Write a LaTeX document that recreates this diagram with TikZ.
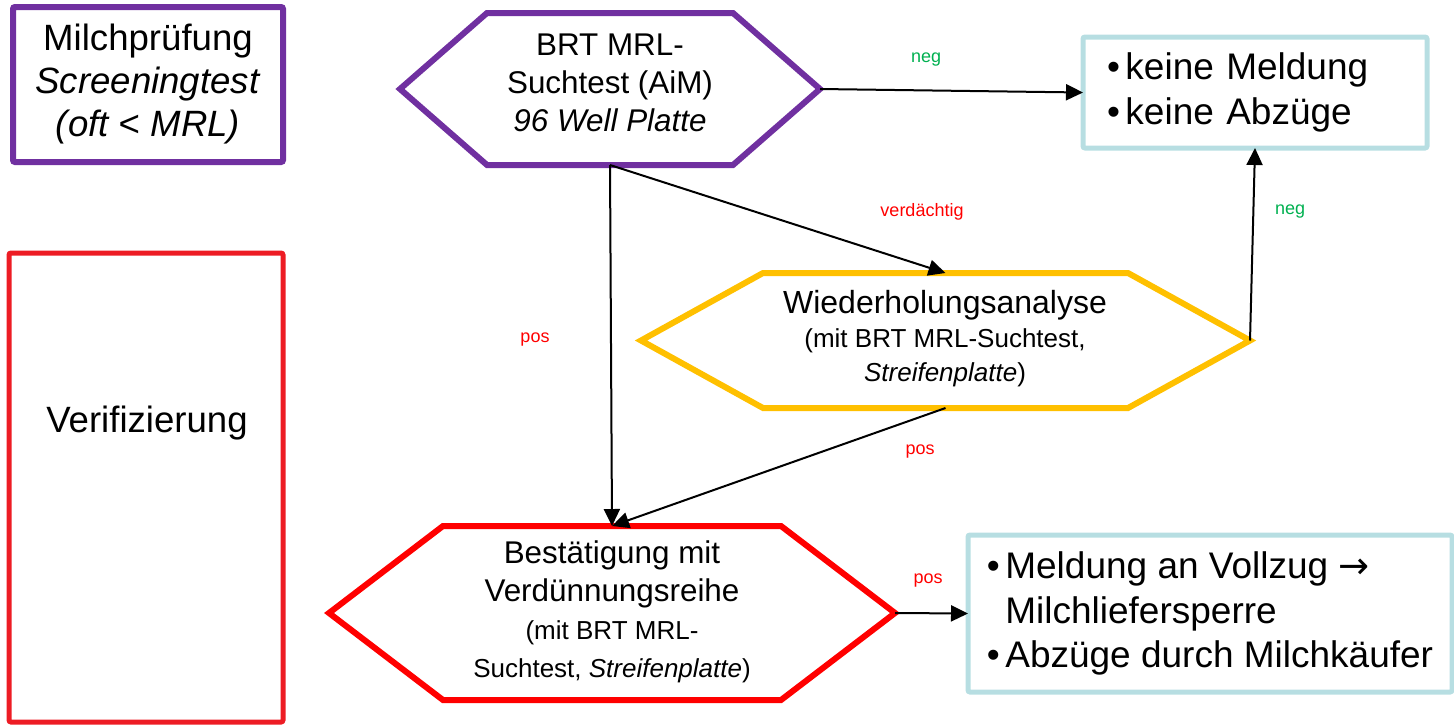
\documentclass[tikz,border=0pt]{standalone}
\usepackage{fontspec}
\setmainfont{Liberation Sans}
\newfontfamily\symfont{DejaVu Sans}
\usetikzlibrary{arrows.meta, calc}

\definecolor{screenpurple}{RGB}{112,48,160}
\definecolor{repeatyellow}{RGB}{255,192,0}
\definecolor{confirmred}{RGB}{255,0,0}
\definecolor{verifred}{RGB}{237,28,36}
\definecolor{infoblue}{RGB}{183,222,226}
\definecolor{neggreen}{RGB}{0,176,80}

\newcommand{\bul}{\makebox[0.5em][l]{•}}
\newcommand{\bigtxt}{\fontsize{18.3}{21.5}\selectfont}
\newcommand{\hextxt}{\fontsize{15.7}{19}\selectfont}
\newcommand{\smalltxt}{\fontsize{13}{17}\selectfont}

% draws the hexagon round an (invisible) frame node
\newcommand{\hexoutline}[3]{% #1 node, #2 inset (px), #3 colour
    \draw[hexline, draw=#3] (#1.west) -- ($(#1.north west)+(#2,0)$) -- ($(#1.north east)-(#2,0)$)
        -- (#1.east) -- ($(#1.south east)-(#2,0)$) -- ($(#1.south west)+(#2,0)$) -- cycle;
}

\tikzset{
    hexframe/.style={draw=none, inner sep=0pt, outer sep=0pt},
    hexline/.style={line width=3pt, line join=miter},
    sidebox/.style={line width=2.5pt, rounded corners=1pt, inner sep=0pt, align=center, font=\bigtxt},
    infobox/.style={draw=infoblue, line width=2.5pt, rounded corners=1pt, inner ysep=0pt, outer sep=0pt, align=left, font=\fontsize{18.5}{22.3}\selectfont},
    flow/.style={line width=1pt, -{Triangle[length=8.5pt,width=8pt]}},
    neglabel/.style={text=neggreen, font=\fontsize{9}{11}\selectfont},
    poslabel/.style={text=confirmred, font=\fontsize{9}{11}\selectfont},
}

\begin{document}
\begin{tikzpicture}[x=0.5pt, y=-0.5pt]
    \def\px{0.5pt} % one pixel of the reference
    \useasboundingbox (0,0) rectangle (1454,724);

    % --- Left column ---
    \node[sidebox, draw=screenpurple, line width=3pt, minimum width=270*\px, minimum height=155*\px] (screen) at (148,84.5)
        {Milchprüfung\\\textit{Screeningtest}\\\textit{(oft < MRL)}};
    \node[sidebox, draw=verifred, minimum width=274*\px, minimum height=469*\px] (verif) at (146,487.5) {};
    \node[font=\bigtxt] (verif text) at (147,423) {Verifizierung};

    % --- Hexagons ---
    % BRT screening test (purple)
    \node[hexframe, minimum width=420*\px, minimum height=152*\px] (brt) at (610,89) {};
    \hexoutline{brt}{87}{screenpurple}
    \node[align=center, font=\hextxt] (brt text) at (610,83) {BRT MRL-\\Suchtest (AiM)\\\textit{96 Well Platte}};

    % repeat analysis (yellow)
    \node[hexframe, minimum width=609*\px, minimum height=135*\px] (rep) at (945.5,340.5) {};
    \hexoutline{rep}{122}{repeatyellow}
    \node[align=center, font=\smalltxt] (rep text) at (945,339)
        {{\fontsize{16}{19}\selectfont Wiederholungsanalyse}\\(mit BRT MRL-Suchtest,\\\textit{Streifenplatte})};

    % confirmation (red)
    \node[hexframe, minimum width=566*\px, minimum height=174*\px] (conf) at (612,613) {};
    \hexoutline{conf}{114}{confirmred}
    \node[align=center, font=\hextxt] (conf text) at (612,612)
        {Bestätigung mit\\Verdünnungsreihe\\{\smalltxt (mit BRT MRL-}\\{\smalltxt Suchtest, \textit{Streifenplatte})}};

    % --- Result boxes ---
    \node[infobox, inner xsep=24*\px, text width=296*\px, minimum height=111*\px] (nomsg) at (1255,92.5)
        {\bul keine Meldung\\\bul keine Abzüge};
    \node[infobox, inner xsep=0pt, minimum width=484*\px, minimum height=157*\px] (report) at (1210,613.5)
        {\bul Meldung an Vollzug {\symfont →}\\\hspace{0.5em}Milchliefersperre\\\bul Abzüge durch Milchkäufer};

    % --- Connectors ---
    \draw[flow] (brt.east) -- (nomsg.west);
    \draw[flow] (brt.south) -- (rep.north);
    \draw[flow] (brt.south) -- (conf.north);
    \draw[flow] (rep.east) -- (nomsg.south);
    \draw[flow] (rep.south) -- (conf.north);
    \draw[flow] (conf.east) -- (report.west);

    % edge labels
    \node[neglabel] (neg top) at (926,60) {neg};
    \node[poslabel] (susp) at (922,212) {verdächtig};
    \node[poslabel] (pos left) at (535,340) {pos};
    \node[neglabel] (neg right) at (1290,212) {neg};
    \node[poslabel] (pos mid) at (920,452) {pos};
    \node[poslabel] (pos out) at (928,581) {pos};
\end{tikzpicture}
\end{document}
